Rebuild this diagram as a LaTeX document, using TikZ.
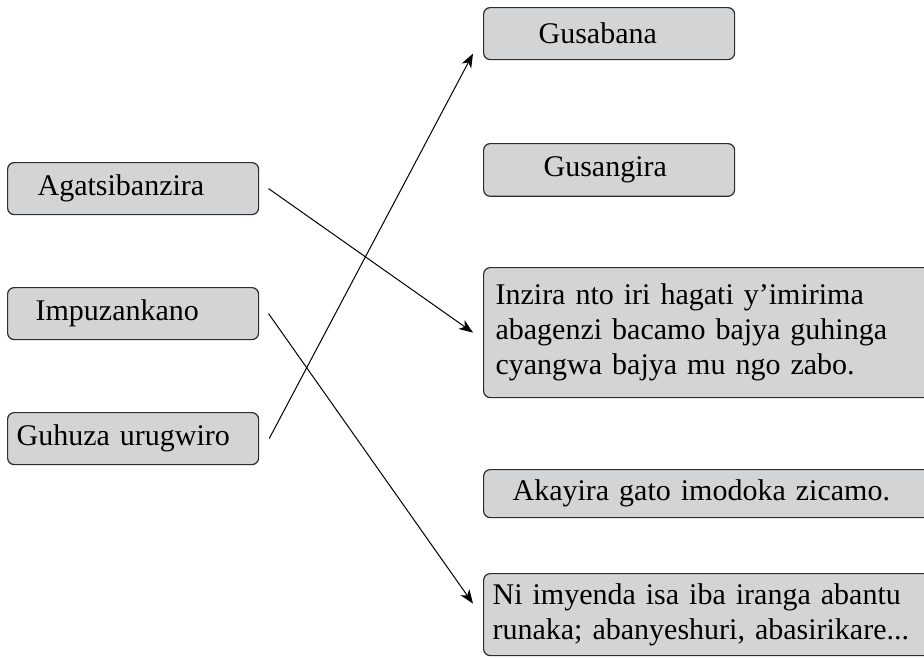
\documentclass[tikz,border=0pt]{standalone}
\usepackage{fontspec}
\setmainfont{Liberation Serif}
\usepackage{tikz}
\usetikzlibrary{arrows.meta,calc}
\definecolor{boxfill}{RGB}{211,212,214}
\definecolor{boxline}{RGB}{45,45,45}
\tikzset{
         wordbox/.style=
          {
           draw=boxline,fill=boxfill,line width=0.9pt,rounded corners=5pt,
           anchor=north west,inner xsep=0pt,inner ysep=2pt,align=left,
           font=\fontsize{22.5}{26.25}\selectfont
          },
         link/.style={line width=0.75pt,-{Stealth[length=10.5pt,width=8pt,inset=3pt]}}
        }
\begin{document}
\begin{tikzpicture}[x=0.75pt,y=-0.75pt]
\clip(0,0)rectangle(924,657); %page
%words
\node[wordbox,text width=188.25pt,minimum height=39pt](agat)at(7,162){\hspace*{22.5pt}Agatsibanzira};
\node[wordbox,text width=188.25pt,minimum height=39pt](impu)at(7,287){\hspace*{21pt}Impuzankano};
\node[wordbox,text width=188.25pt,minimum height=39pt](guhuza)at(7,412){\hspace*{6.75pt}Guhuza urugwiro};
%meanings
\node[wordbox,text width=188.25pt,minimum height=39pt](gusabana)at(483,7){\hspace*{41.25pt}Gusabana};
\node[wordbox,text width=188.25pt,minimum height=39.5pt](gusangira)at(483,143){\hspace*{45pt}Gusangira};
\node[wordbox,inner xsep=9pt,text width=327pt,minimum height=97.5pt](inzira)at(483,267)
{Inzira nto iri hagati y’imirima\\abagenzi bacamo bajya guhinga\\cyangwa bajya mu ngo zabo.};
\node[wordbox,inner xsep=21.75pt,text width=301.5pt,minimum height=36pt](akayira)at(483,469)
{Akayira gato imodoka zicamo.};
\node[wordbox,inner xsep=6.75pt,text width=331.5pt,minimum height=61.5pt](imyenda)at(483,573)
{Ni imyenda isa iba iranga abantu\\runaka; abanyeshuri, abasirikare...};
%arrows
\draw[link]([xshift=7pt]agat.east)--([xshift=-7.5pt]inzira.west);
\draw[link]([xshift=7pt]impu.east)--([xshift=-7.5pt,yshift=8.25pt]imyenda.west);
\draw[link]([xshift=7.5pt]guhuza.east)--([xshift=-7.5pt,yshift=-15pt]gusabana.west);
\end{tikzpicture}
\end{document}
